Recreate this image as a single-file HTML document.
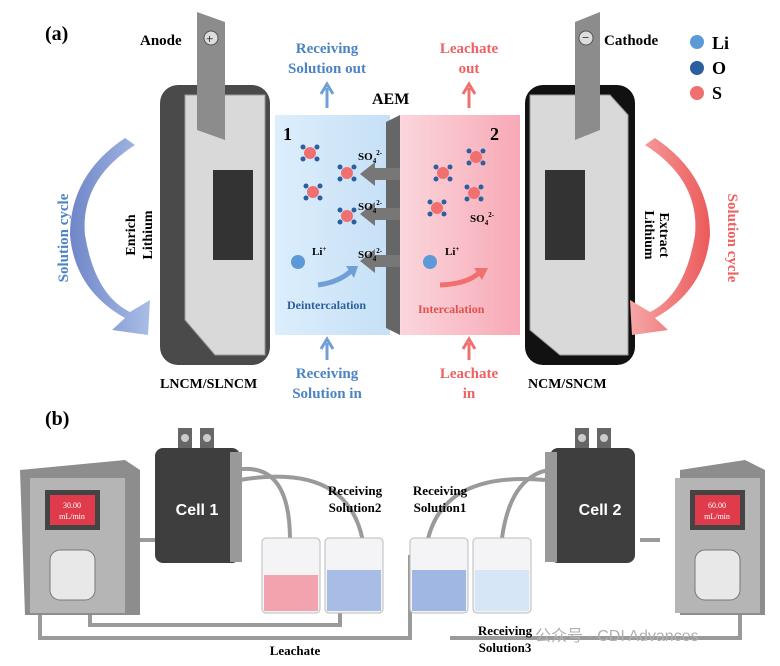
<!DOCTYPE html>
<html><head><meta charset="utf-8"><style>
body{margin:0;background:#fff;}
svg{display:block;font-family:"Liberation Serif",serif;}
</style></head><body>
<svg width="780" height="666" viewBox="0 0 780 666" xmlns="http://www.w3.org/2000/svg">
<defs>
<linearGradient id="bl" x1="0" x2="1"><stop offset="0" stop-color="#dceefc"/><stop offset="1" stop-color="#c6e0f6"/></linearGradient>
<linearGradient id="pk" x1="0" x2="1"><stop offset="0" stop-color="#fbd6dc"/><stop offset="1" stop-color="#f7a9b6"/></linearGradient>
<linearGradient id="gb" x1="0" x2="1"><stop offset="0" stop-color="#6f86c8"/><stop offset="1" stop-color="#a9bde6"/></linearGradient>
<linearGradient id="gp" x1="0" x2="1"><stop offset="0" stop-color="#f6a6a6"/><stop offset="1" stop-color="#ec5a5a"/></linearGradient>
</defs>
<text x="45" y="40" font-size="20" font-weight="bold">(a)</text>
<text x="45" y="425" font-size="20" font-weight="bold">(b)</text>
<!-- anode -->
<rect x="160" y="85" width="110" height="280" rx="18" fill="#4a4a4a"/>
<path d="M185 95 L265 95 L265 355 L215 355 L185 320 Z" fill="#d9d9d9" stroke="#999"/>
<rect x="213" y="170" width="40" height="90" fill="#333"/>
<path d="M197 12 L225 22 L225 140 L197 130 Z" fill="#8c8c8c"/>
<circle cx="211" cy="38" r="7" fill="#ddd" stroke="#555"/><text x="206" y="43" font-size="13">+</text>
<text x="140" y="45" font-size="15" font-weight="bold">Anode</text>
<!-- cathode -->
<rect x="525" y="85" width="110" height="280" rx="18" fill="#111"/>
<path d="M530 95 L610 95 L628 115 L628 355 L560 355 L530 330 Z" fill="#d9d9d9" stroke="#999"/>
<rect x="545" y="170" width="40" height="90" fill="#333"/>
<path d="M575 22 L600 12 L600 130 L575 140 Z" fill="#8c8c8c"/>
<circle cx="586" cy="38" r="7" fill="#ddd" stroke="#555"/><text x="582" y="42" font-size="13">−</text>
<text x="604" y="45" font-size="15" font-weight="bold">Cathode</text>
<!-- legend -->
<circle cx="697" cy="42" r="7" fill="#5b9ad6"/><text x="712" y="49" font-size="18" font-weight="bold">Li</text>
<circle cx="697" cy="68" r="7" fill="#2c5fa0"/><text x="712" y="74" font-size="18" font-weight="bold">O</text>
<circle cx="697" cy="93" r="7" fill="#f07070"/><text x="712" y="99" font-size="18" font-weight="bold">S</text>
<!-- cell -->
<rect x="275" y="115" width="115" height="220" fill="url(#bl)"/>
<rect x="400" y="115" width="120" height="220" fill="url(#pk)"/>
<path d="M386 122 L400 115 L400 335 L386 328Z" fill="#666"/>
<text x="372" y="104" font-size="16" font-weight="bold">AEM</text>
<text x="283" y="140" font-size="18" font-weight="bold">1</text>
<text x="490" y="140" font-size="18" font-weight="bold">2</text>
<g fill="#777">
<path d="M400 168 L375 168 L375 162 L360 174 L375 186 L375 180 L400 180Z"/>
<path d="M400 208 L375 208 L375 202 L360 214 L375 226 L375 220 L400 220Z"/>
<path d="M400 255 L375 255 L375 249 L360 261 L375 273 L375 267 L400 267Z"/>
</g>
<g font-size="11" font-weight="bold">
<text x="358" y="160">SO<tspan font-size="7" dy="3">4</tspan><tspan font-size="7" dy="-8">2-</tspan></text>
<text x="358" y="210">SO<tspan font-size="7" dy="3">4</tspan><tspan font-size="7" dy="-8">2-</tspan></text>
<text x="358" y="258">SO<tspan font-size="7" dy="3">4</tspan><tspan font-size="7" dy="-8">2-</tspan></text>
<text x="470" y="222">SO<tspan font-size="7" dy="3">4</tspan><tspan font-size="7" dy="-8">2-</tspan></text>
<text x="312" y="255">Li<tspan font-size="7" dy="-4">+</tspan></text>
<text x="445" y="255">Li<tspan font-size="7" dy="-4">+</tspan></text></g>
<g fill="#f07070">
<circle cx="310" cy="153" r="6"/><circle cx="347" cy="173" r="6"/><circle cx="313" cy="192" r="6"/><circle cx="347" cy="216" r="6"/>
<circle cx="476" cy="157" r="6"/><circle cx="443" cy="173" r="6"/><circle cx="474" cy="193" r="6"/><circle cx="437" cy="208" r="6"/>
</g>
<g fill="#2c5fa0">
<circle cx="303" cy="147" r="2.5"/><circle cx="317" cy="147" r="2.5"/><circle cx="303" cy="159" r="2.5"/><circle cx="317" cy="159" r="2.5"/>
<circle cx="340" cy="167" r="2.5"/><circle cx="354" cy="167" r="2.5"/><circle cx="340" cy="179" r="2.5"/><circle cx="354" cy="179" r="2.5"/>
<circle cx="306" cy="186" r="2.5"/><circle cx="320" cy="186" r="2.5"/><circle cx="306" cy="198" r="2.5"/><circle cx="320" cy="198" r="2.5"/>
<circle cx="340" cy="210" r="2.5"/><circle cx="354" cy="210" r="2.5"/><circle cx="340" cy="222" r="2.5"/><circle cx="354" cy="222" r="2.5"/>
<circle cx="469" cy="151" r="2.5"/><circle cx="483" cy="151" r="2.5"/><circle cx="469" cy="163" r="2.5"/><circle cx="483" cy="163" r="2.5"/>
<circle cx="436" cy="167" r="2.5"/><circle cx="450" cy="167" r="2.5"/><circle cx="436" cy="179" r="2.5"/><circle cx="450" cy="179" r="2.5"/>
<circle cx="467" cy="187" r="2.5"/><circle cx="481" cy="187" r="2.5"/><circle cx="467" cy="199" r="2.5"/><circle cx="481" cy="199" r="2.5"/>
<circle cx="430" cy="202" r="2.5"/><circle cx="444" cy="202" r="2.5"/><circle cx="430" cy="214" r="2.5"/><circle cx="444" cy="214" r="2.5"/>
</g>
<circle cx="298" cy="262" r="7" fill="#5b9ad6"/><circle cx="430" cy="262" r="7" fill="#5b9ad6"/>
<path d="M318 285 Q340 282 352 270" stroke="#6f9fd6" stroke-width="5" fill="none"/><path d="M346 266 L358 266 L354 278Z" fill="#6f9fd6"/>
<path d="M440 285 Q468 284 480 272" stroke="#f07070" stroke-width="5" fill="none"/><path d="M474 268 L488 268 L482 280Z" fill="#f07070"/>
<text x="287" y="309" font-size="12" font-weight="bold" fill="#2c5fa0">Deintercalation</text>
<text x="418" y="313" font-size="12" font-weight="bold" fill="#e05050">Intercalation</text>
<g font-size="15" font-weight="bold" fill="#4b84c4" text-anchor="middle">
<text x="327" y="53">Receiving</text><text x="327" y="73">Solution out</text>
<text x="327" y="378">Receiving</text><text x="327" y="398">Solution in</text></g>
<g font-size="15" font-weight="bold" fill="#f06060" text-anchor="middle">
<text x="469" y="53">Leachate</text><text x="469" y="73">out</text>
<text x="469" y="378">Leachate</text><text x="469" y="398">in</text></g>
<path d="M327 108 V88 M321 94 L327 84 L333 94" stroke="#6f9fd6" stroke-width="3" fill="none"/>
<path d="M469 108 V88 M463 94 L469 84 L475 94" stroke="#f07070" stroke-width="3" fill="none"/>
<path d="M327 360 V343 M321 349 L327 339 L333 349" stroke="#6f9fd6" stroke-width="3" fill="none"/>
<path d="M469 360 V343 M463 349 L469 339 L475 349" stroke="#f07070" stroke-width="3" fill="none"/>
<text x="160" y="388" font-size="14" font-weight="bold">LNCM/SLNCM</text>
<text x="528" y="388" font-size="14" font-weight="bold">NCM/SNCM</text>
<!-- cycle arrows -->
<path d="M135 145 Q80 180 85 235 Q95 295 130 312 L150 300 L148 335 L112 330 L125 318 Q75 290 70 235 Q70 175 125 138Z" fill="url(#gb)"/>
<path d="M645 145 Q700 180 695 235 Q685 295 650 312 L630 300 L632 335 L668 330 L655 318 Q705 290 710 235 Q710 175 655 138Z" fill="url(#gp)"/>
<text transform="translate(68,238) rotate(-90)" font-size="15" font-weight="bold" fill="#4b84c4" text-anchor="middle">Solution cycle</text>
<text transform="translate(728,238) rotate(90)" font-size="15" font-weight="bold" fill="#f06060" text-anchor="middle">Solution cycle</text>
<g font-size="14" font-weight="bold" text-anchor="middle">
<text transform="translate(135,235) rotate(-90)">Enrich</text><text transform="translate(152,235) rotate(-90)">Lithium</text>
<text transform="translate(660,235) rotate(90)">Extract</text><text transform="translate(645,235) rotate(90)">Lithium</text></g>
<!-- part b tubing -->
<g stroke="#9a9a9a" stroke-width="4" fill="none">
<path d="M60 580 L40 580 L40 638 L410 638 L410 555"/>
<path d="M90 580 L90 625 L340 625 L340 540"/>
<path d="M130 540 L160 540"/>
<path d="M235 470 Q290 460 290 540"/>
<path d="M240 480 Q360 460 365 560"/>
<path d="M570 470 Q505 460 500 560"/>
<path d="M545 480 Q430 470 425 560"/>
<path d="M700 580 L740 580 L740 638 L450 638"/>
<path d="M640 540 L660 540"/>
</g>
<!-- pumps -->
<path d="M20 470 L125 460 L140 470 L140 615 L25 615 Z" fill="#8d8d8d"/>
<rect x="30" y="478" width="95" height="135" fill="#b5b5b5"/>
<rect x="45" y="490" width="55" height="40" fill="#444"/><rect x="50" y="495" width="45" height="30" fill="#e03b4b"/>
<text x="72" y="508" font-size="8" fill="#fff" text-anchor="middle">30.00</text><text x="72" y="519" font-size="8" fill="#fff" text-anchor="middle">mL/min</text>
<rect x="50" y="550" width="45" height="50" rx="10" fill="#e8e8e8" stroke="#777"/>
<path d="M680 470 L745 460 L765 470 L765 615 L680 615 Z" fill="#8d8d8d"/>
<rect x="675" y="478" width="85" height="135" fill="#b5b5b5"/>
<rect x="690" y="490" width="55" height="40" fill="#444"/><rect x="695" y="495" width="45" height="30" fill="#e03b4b"/>
<text x="717" y="508" font-size="8" fill="#fff" text-anchor="middle">60.00</text><text x="717" y="519" font-size="8" fill="#fff" text-anchor="middle">mL/min</text>
<rect x="695" y="550" width="45" height="50" rx="10" fill="#e8e8e8" stroke="#777"/>
<!-- cells -->
<rect x="155" y="448" width="85" height="115" rx="8" fill="#3e3e3e"/><rect x="230" y="452" width="12" height="110" fill="#999"/>
<rect x="178" y="428" width="14" height="20" fill="#666"/><rect x="200" y="428" width="14" height="20" fill="#666"/>
<circle cx="185" cy="438" r="4" fill="#ccc"/><circle cx="207" cy="438" r="4" fill="#ccc"/>
<text x="197" y="515" font-size="16" font-weight="bold" fill="#fff" text-anchor="middle" font-family="Liberation Sans,sans-serif">Cell 1</text>
<rect x="550" y="448" width="85" height="115" rx="8" fill="#3e3e3e"/><rect x="545" y="452" width="12" height="110" fill="#999"/>
<rect x="575" y="428" width="14" height="20" fill="#666"/><rect x="597" y="428" width="14" height="20" fill="#666"/>
<circle cx="582" cy="438" r="4" fill="#ccc"/><circle cx="604" cy="438" r="4" fill="#ccc"/>
<text x="600" y="515" font-size="16" font-weight="bold" fill="#fff" text-anchor="middle" font-family="Liberation Sans,sans-serif">Cell 2</text>
<!-- beakers -->
<rect x="262" y="538" width="58" height="75" rx="4" fill="#f4f4f6" stroke="#bbb"/><rect x="264" y="575" width="54" height="36" fill="#f3a3ad"/>
<rect x="325" y="538" width="58" height="75" rx="4" fill="#f4f4f6" stroke="#bbb"/><rect x="327" y="570" width="54" height="41" fill="#a7bde6"/>
<rect x="410" y="538" width="58" height="75" rx="4" fill="#f4f4f6" stroke="#bbb"/><rect x="412" y="570" width="54" height="41" fill="#9fb7e2"/>
<rect x="473" y="538" width="58" height="75" rx="4" fill="#f4f4f6" stroke="#bbb"/><rect x="475" y="570" width="54" height="41" fill="#d7e6f6"/>
<g font-size="13" font-weight="bold" text-anchor="middle">
<text x="355" y="495">Receiving</text><text x="355" y="512">Solution2</text>
<text x="440" y="495">Receiving</text><text x="440" y="512">Solution1</text>
<text x="505" y="635">Receiving</text><text x="505" y="652">Solution3</text>
<text x="295" y="655">Leachate</text></g>
<text x="535" y="641" font-size="16" fill="#b0b0b0" font-family="Liberation Sans,'Noto Sans CJK SC',sans-serif">公众号 · CDI Advances</text>
</svg>
</body></html>
